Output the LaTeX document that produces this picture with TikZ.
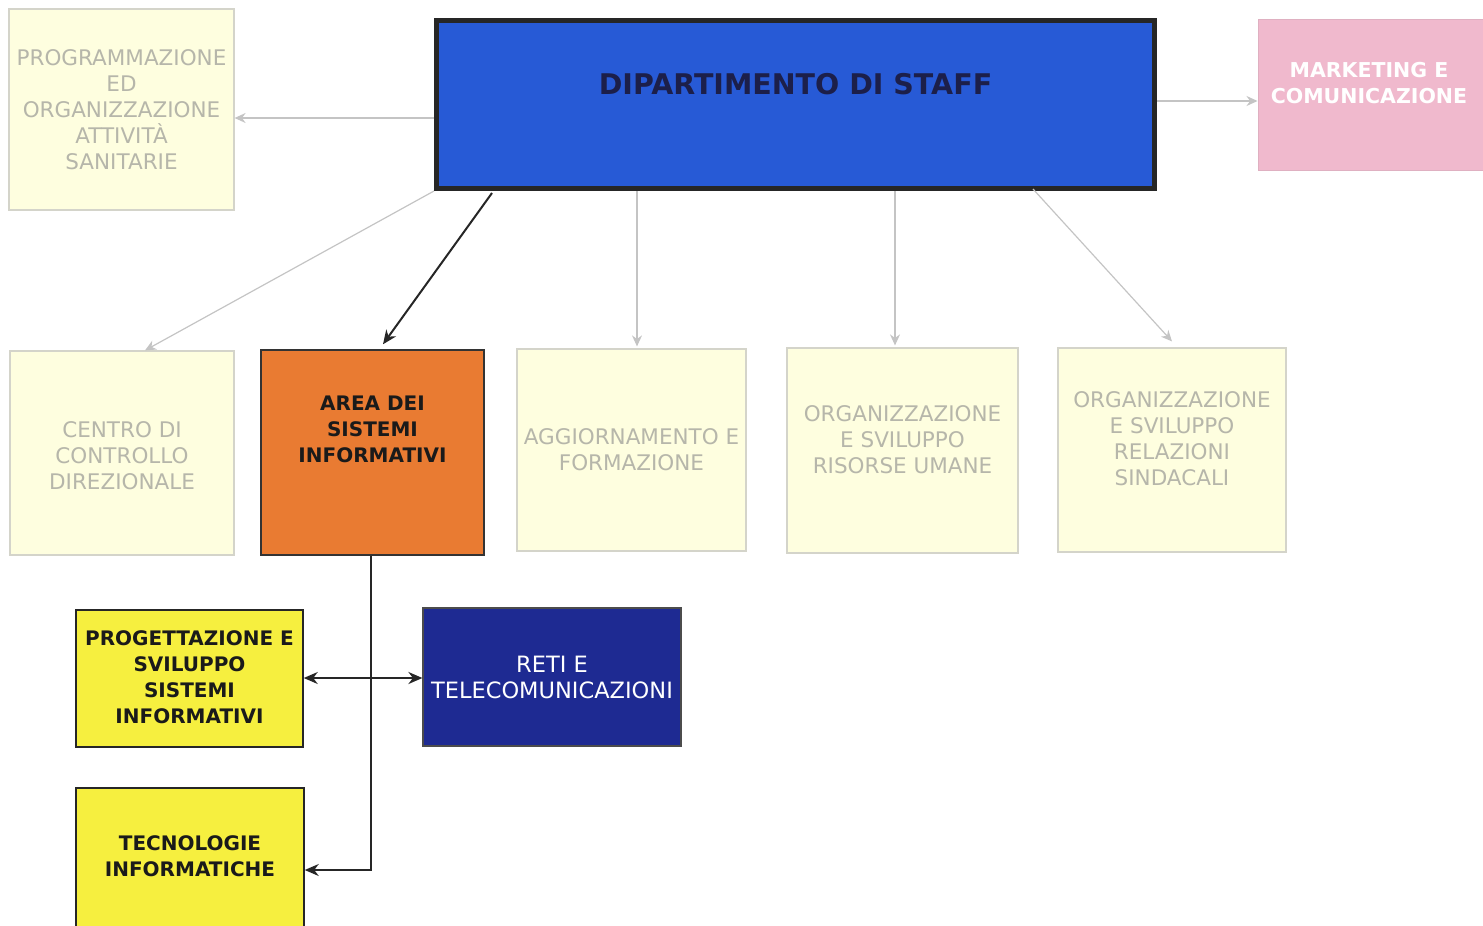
\documentclass[tikz,border=0pt]{standalone}
\usepackage{fontspec}
\setmainfont{DejaVu Sans}
\usetikzlibrary{arrows.meta}
\definecolor{lightfill}{HTML}{FEFEDF}
\definecolor{lightborder}{HTML}{D4D4CA}
\definecolor{graytext}{HTML}{B6B6AA}
\definecolor{grayline}{HTML}{C4C4C4}
\definecolor{dipblue}{HTML}{275AD6}
\definecolor{diptext}{HTML}{1C1F4A}
\definecolor{pinkbox}{HTML}{F0B9CD}
\definecolor{orangebox}{HTML}{E97B32}
\definecolor{yellowbox}{HTML}{F6EF3F}
\definecolor{navybox}{HTML}{1E2A92}
\definecolor{darktext}{HTML}{1A1A1A}
\tikzset{
  graybox/.style={draw=lightborder, line width=1.2pt, fill=lightfill, inner sep=0pt},
  graytxt/.style={text=graytext, align=center, font=\fontsize{21.5}{26}\selectfont, inner sep=0pt},
  boldtxt/.style={text=darktext, align=center, font=\fontsize{20}{26}\selectfont\bfseries, inner sep=0pt},
  grayarrow/.style={draw=grayline, line width=1.2pt, -{Stealth[length=11pt,width=10pt]}},
  blackarrow/.style={draw=black!85, line width=2pt, -{Stealth[length=14pt,width=12pt]}},
}
\begin{document}
\begin{tikzpicture}[x=1pt,y=-1pt]
\useasboundingbox (0,0) rectangle (1483,926);
% top row
\node[graybox, minimum width=225pt, minimum height=201pt] (prog) at (121.5,109.5) {};
\node[graytxt] (progT) at (prog) {PROGRAMMAZIONE\\ED\\ORGANIZZAZIONE\\ATTIVITÀ\\SANITARIE};
\node[draw=black!85, line width=5pt, fill=dipblue, minimum width=718pt, minimum height=168pt, inner sep=0pt] (dip) at (795.5,104.5) {};
\node[text=diptext, font=\fontsize{28.5}{32}\selectfont\bfseries, inner sep=0pt] (dipT) at (795.5,84) {DIPARTIMENTO DI STAFF};
\node[draw=pinkbox!85!gray, line width=1pt, fill=pinkbox, minimum width=226pt, minimum height=151pt, inner sep=0pt] (mkt) at (1371,94.5) {};
\node[text=white, align=center, font=\fontsize{20.5}{26}\selectfont\bfseries, inner sep=0pt] (mktT) at (1369,83) {MARKETING E\\COMUNICAZIONE};
% second row
\node[graybox, minimum width=224pt, minimum height=204pt] (centro) at (122,453) {};
\node[graytxt] (centroT) at (122,455.5) {CENTRO DI\\CONTROLLO\\DIREZIONALE};
\node[draw=black!80, line width=1.5pt, fill=orangebox, minimum width=223pt, minimum height=205pt, inner sep=0pt] (area) at (372.5,452.5) {};
\node[boldtxt] (areaT) at (372.5,429) {AREA DEI\\SISTEMI\\INFORMATIVI};
\node[graybox, minimum width=229pt, minimum height=202pt] (agg) at (631.5,450) {};
\node[graytxt] (aggT) at (631.5,449.5) {AGGIORNAMENTO E\\FORMAZIONE};
\node[graybox, minimum width=231pt, minimum height=205pt] (orgru) at (902.5,450.5) {};
\node[graytxt] (orgruT) at (902.5,440) {ORGANIZZAZIONE\\E SVILUPPO\\RISORSE UMANE};
\node[graybox, minimum width=228pt, minimum height=204pt] (orgrs) at (1172,450) {};
\node[graytxt] (orgrsT) at (1172,439) {ORGANIZZAZIONE\\E SVILUPPO\\RELAZIONI\\SINDACALI};
% third row
\node[draw=black!85, line width=1.5pt, fill=yellowbox, minimum width=227pt, minimum height=137pt, inner sep=0pt] (progsv) at (189.5,678.5) {};
\node[boldtxt] (progsvT) at (189.5,677) {PROGETTAZIONE E\\SVILUPPO\\SISTEMI\\INFORMATIVI};
\node[draw=black!70, line width=1.2pt, fill=navybox, minimum width=258pt, minimum height=138pt, inner sep=0pt] (reti) at (552,677) {};
\node[text=white, align=center, font=\fontsize{22.5}{26}\selectfont, inner sep=0pt] (retiT) at (552,677) {RETI E\\TELECOMUNICAZIONI};
\node[draw=black!85, line width=1.5pt, fill=yellowbox, minimum width=228pt, minimum height=142pt, inner sep=0pt] (tec) at (190,859) {};
\node[boldtxt] (tecT) at (190,856.5) {TECNOLOGIE\\INFORMATICHE};
% connectors from DIPARTIMENTO
\draw[grayarrow] ([yshift=-13.5pt]dip.west) -- ([yshift=-8.5pt]prog.east);
\draw[grayarrow] ([yshift=3.5pt]dip.east) -- ([yshift=-6.5pt]mkt.west);
\draw[grayarrow] (dip.south west) -- ([xshift=23pt]centro.north);
\draw[blackarrow] ([xshift=58pt,yshift=-2pt]dip.south west) -- ([xshift=10.5pt,yshift=5pt]area.north);
\draw[grayarrow] ([xshift=203pt]dip.south west) -- ([xshift=5.5pt,yshift=2pt]agg.north);
\draw[grayarrow] ([xshift=461pt]dip.south west) -- ([xshift=-7.5pt,yshift=2pt]orgru.north);
\draw[grayarrow] ([xshift=599pt,yshift=2pt]dip.south west) -- ([yshift=6pt]orgrs.north);
% connectors from AREA
\draw[blackarrow] ([xshift=-1.5pt]area.south) |- ([yshift=-11pt]tec.east);
\draw[blackarrow, {Stealth[length=14pt,width=12pt]}-{Stealth[length=14pt,width=12pt]}] ([yshift=0.5pt]progsv.east) -- ([yshift=-1pt]reti.west);
\end{tikzpicture}
\end{document}
